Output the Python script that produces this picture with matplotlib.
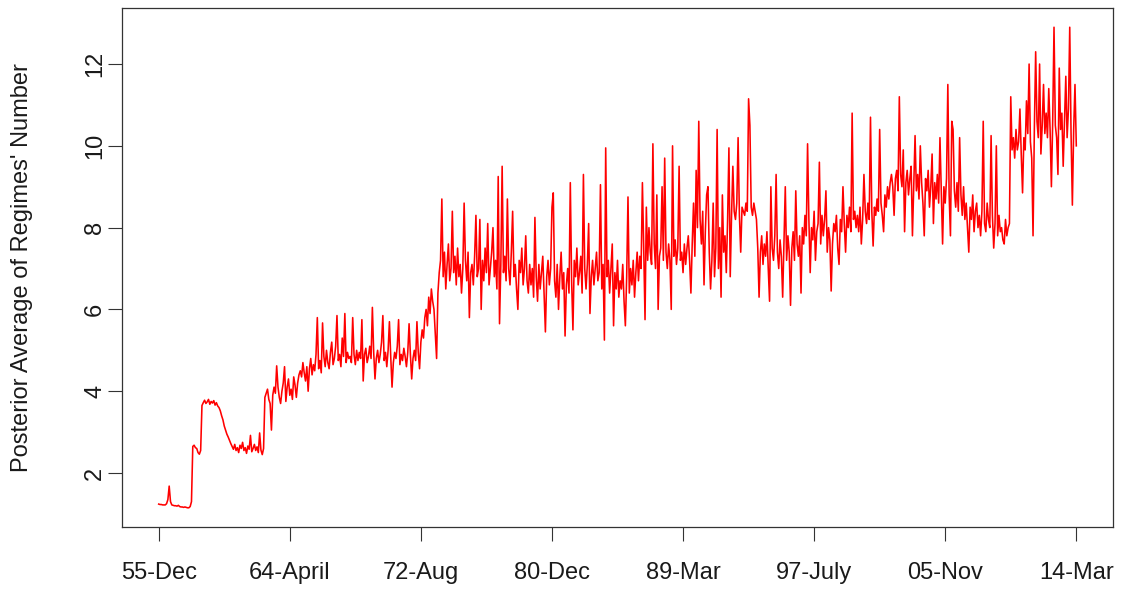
import numpy as np
import matplotlib
matplotlib.use("Agg")
import matplotlib.pyplot as plt

# Posterior average of the number of regimes, monthly, 1955-Dec .. 2014-Mar
regimes_1955_1972 = [
    1.24,1.23,1.23,1.22,1.22,1.22,1.25,1.35,1.68,1.30,
    1.22,1.21,1.20,1.20,1.19,1.21,1.18,1.17,1.17,1.16,
    1.17,1.16,1.15,1.15,1.18,1.30,
    2.65,2.68,2.62,2.60,2.50,2.46,2.55,
    3.65,3.72,3.78,3.70,3.74,3.80,3.68,3.75,3.71,3.77,3.66,3.72,3.64,3.60,
    3.52,3.40,3.30,3.15,3.05,2.95,2.88,2.80,2.72,
    2.65,2.58,2.70,2.55,2.62,2.50,2.68,2.60,2.75,2.55,
    2.62,2.48,2.66,2.58,2.92,2.52,2.60,2.70,2.55,2.64,
    2.50,2.98,2.56,2.45,2.60,
    3.85,3.95,4.05,3.80,3.70,3.05,3.90,4.10,3.95,4.62,
    4.10,3.85,3.70,4.00,4.20,4.60,3.75,4.10,4.30,3.90,
    4.05,3.80,4.35,4.15,3.85,4.20,4.40,
    4.50,4.35,4.70,4.45,4.25,4.60,4.00,4.55,4.80,4.40,
    4.65,4.50,4.90,5.80,4.55,4.75,4.45,5.67,4.85,4.60,
    5.00,4.70,4.55,4.95,5.20,4.65,4.80,5.10,5.85,4.75,
    4.90,4.60,5.30,4.85,5.90,4.70,4.95,4.80,
    4.85,4.70,5.80,4.90,4.65,5.00,4.75,4.95,4.80,5.75,
    4.25,4.90,5.05,4.70,4.85,5.10,4.80,6.05,4.95,4.30,
    4.80,5.00,4.70,4.90,5.20,5.85,4.75,4.95,4.60,5.00,
    5.70,4.85,4.10,4.70,4.95,4.80,5.10,5.75,4.65,4.90,
    4.75,5.05,4.85,4.60,4.95,5.65,4.90,4.30,4.80,5.00,
    4.75,5.70,4.95,4.55,
]

regimes_1972_1990 = [
    5.20,5.50,5.30,5.80,6.00,5.60,6.30,5.90,6.50,6.20,
    6.00,5.40,4.80,6.40,6.90,
    7.20,8.70,6.80,7.40,6.50,7.10,7.60,6.70,7.00,8.40,
    6.90,7.30,6.60,7.50,6.80,7.10,6.40,7.00,8.60,7.20,
    6.70,7.40,5.80,6.90,7.10,6.60,7.30,8.30,6.80,7.00,
    8.20,6.00,7.20,6.70,7.50,6.90,8.10,6.60,7.00,7.40,
    8.00,6.80,7.20,6.50,9.25,5.65,7.10,9.50,6.90,7.30,
    6.70,8.70,7.00,6.60,7.40,8.40,6.80,7.10,6.50,6.00,
    7.20,6.90,7.50,6.60,7.00,7.80,6.70,6.40,7.10,
    6.60,7.00,6.30,8.25,6.80,6.20,7.10,6.50,6.90,7.30,
    6.40,5.45,6.80,7.20,6.60,7.00,8.50,8.85,6.70,6.30,
    7.10,6.00,6.80,7.40,6.50,6.90,5.35,6.60,7.00,6.40,
    9.10,6.70,5.50,7.20,6.80,7.50,6.60,6.90,7.30,6.40,
    9.30,7.00,6.50,7.10,8.10,5.90,6.80,7.20,6.60,7.00,
    7.40,6.70,6.90,9.05,6.50,7.10,5.25,9.95,6.80,7.20,
    6.40,7.00,7.60,5.60,6.90,6.50,7.20,6.30,6.70,
    6.50,7.10,6.20,5.60,6.80,8.75,6.40,7.00,6.60,7.20,
    6.30,6.90,7.40,6.70,7.30,7.00,9.10,7.50,5.75,8.50,
    7.20,8.00,7.40,7.10,10.05,7.60,7.00,8.80,6.00,7.30,
    7.50,9.00,7.20,9.70,7.40,7.00,7.60,7.20,6.00,10.00,
    7.30,7.70,7.10,7.50,9.50,7.20,7.40,6.90,7.60,7.10,
    7.50,7.80,7.20,6.40,7.60,8.60,7.30,9.40,8.00,10.60,
    8.20,7.60,8.40,6.60,7.90,8.80,9.00,7.40,6.50,
]

regimes_1990_2008 = [
    7.20,8.60,6.80,7.50,10.40,7.00,8.00,6.30,8.80,7.40,
    7.80,6.90,8.20,9.95,6.80,8.30,9.50,8.40,8.20,8.60,
    10.20,8.30,7.40,8.50,8.40,8.30,8.60,8.40,11.15,10.50,
    8.50,8.30,8.60,8.40,8.20,7.50,6.30,7.40,7.80,7.10,
    7.60,7.30,7.90,7.00,6.20,9.00,7.50,7.20,7.80,9.30,
    7.40,7.00,7.70,7.30,6.30,7.60,9.00,7.20,7.80,7.40,
    6.10,7.50,7.90,7.20,8.90,7.60,7.30,7.80,6.40,
    8.00,7.60,8.30,7.80,10.05,8.20,6.90,8.00,7.70,8.40,
    7.20,7.90,8.10,9.60,7.60,8.30,7.80,8.20,8.90,7.40,
    8.00,7.70,6.45,7.60,8.10,7.90,8.30,7.50,7.10,8.20,
    7.90,9.00,8.10,7.40,8.30,8.00,8.50,7.90,10.80,8.20,
    8.40,8.00,8.30,7.90,8.50,7.60,8.20,9.30,8.40,8.10,
    8.60,8.20,10.70,8.40,7.55,8.50,8.30,8.70,8.40,10.40,
    8.60,8.30,7.90,8.80,8.50,9.00,8.70,9.10,9.30,
    9.00,8.30,9.20,9.40,8.90,11.20,9.30,9.00,9.90,7.90,
    9.10,9.40,8.80,9.20,9.50,7.80,9.00,10.25,8.90,9.30,
    8.70,10.00,9.10,8.60,7.80,9.20,8.90,9.40,8.50,9.00,
    9.80,8.10,9.10,8.70,9.30,8.60,10.20,8.90,7.60,9.00,
    8.60,9.20,11.50,8.80,7.80,10.60,10.40,8.90,8.50,9.10,
    8.40,10.20,8.80,8.30,9.00,8.20,8.60,8.00,7.40,8.50,
    8.20,8.80,7.90,8.40,8.60,8.00,8.30,7.80,
]

regimes_2008_2014 = [
    8.40,10.60,8.10,7.90,8.60,8.20,8.00,10.25,8.30,7.50,
    8.10,10.00,7.80,8.30,7.90,8.00,7.70,7.60,8.20,7.80,
    8.00,8.10,
    11.20,9.90,10.20,9.70,10.40,9.90,10.10,10.90,9.80,8.85,
    10.20,9.90,11.10,10.30,12.00,10.10,9.70,7.80,10.40,12.30,
    10.60,10.20,12.00,9.80,10.50,11.50,10.30,10.80,10.20,11.40,
    10.40,9.00,10.60,12.90,10.50,10.20,9.30,11.90,10.40,10.80,
    9.50,10.60,11.70,10.20,10.90,12.90,10.30,8.55,10.40,11.50,
    10.00,
]

tick_positions = [1, 101, 201, 301, 401, 501, 601, 701]
tick_labels = ["55-Dec", "64-April", "72-Aug", "80-Dec", "89-Mar",
               "97-July", "05-Nov", "14-Mar"]
y_ticks = [2, 4, 6, 8, 10, 12]
y_label = "Posterior Average of Regimes' Number"

values = np.array(regimes_1955_1972 + regimes_1972_1990
                  + regimes_1990_2008 + regimes_2008_2014)
months = np.arange(1, len(values) + 1)

plt.rcParams['font.family'] = ['Liberation Sans', 'DejaVu Sans']

fig = plt.figure(figsize=(11.22, 5.90), dpi=100)
ax = fig.add_axes([122 / 1122, 63 / 590, (1113 - 122) / 1122, (527 - 8) / 590])

ax.plot(months, values, color='#FF0000', linewidth=1.15)

n = len(values)
ext_x = 0.04 * (n - 1)
ax.set_xlim(1 - ext_x, n + ext_x)
ymin, ymax = values.min(), values.max()
ext_y = 0.04 * (ymax - ymin)
ax.set_ylim(ymin - ext_y, ymax + ext_y)

ax.set_xticks(tick_positions)
ax.set_xticklabels(tick_labels)
ax.set_yticks(y_ticks)
ax.set_yticklabels([str(v) for v in y_ticks], rotation=90, va='center')

ax.tick_params(axis='both', direction='out', length=10, width=0.8,
               color='#333333', labelsize=17, labelcolor='#1a1a1a')
ax.tick_params(axis='x', pad=15)
ax.tick_params(axis='y', pad=1.5)
for s in ax.spines.values():
    s.set_linewidth(0.9)
    s.set_color('#333333')

fig.text(22 / 1122, 1 - 267.5 / 590, y_label, rotation=90, fontsize=17,
         ha='center', va='center', color='#1a1a1a')

fig.savefig("out.png", dpi=100)
